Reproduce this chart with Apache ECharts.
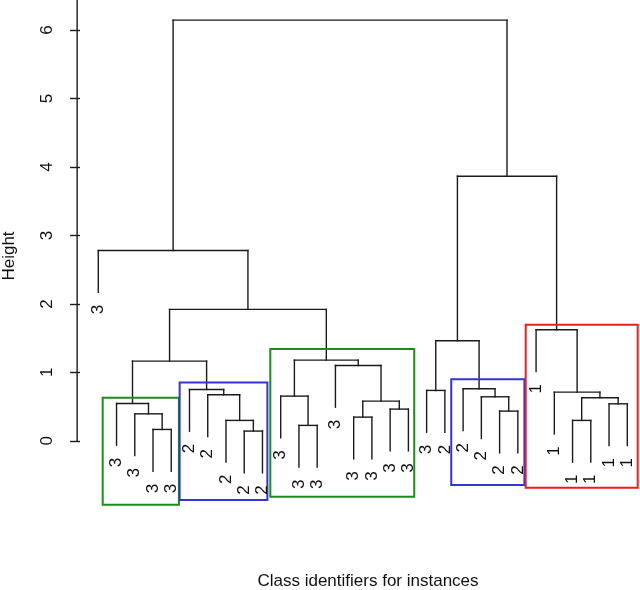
<!DOCTYPE html>
<html>
<head>
<meta charset="utf-8">
<script src="https://cdn.jsdelivr.net/npm/echarts@6/dist/echarts.min.js"></script>
<style>
html,body{margin:0;padding:0;background:#fff;}
#chart{width:640px;height:590px;}
</style>
</head>
<body>
<div id="chart"></div>
<script>
// ---- data ----
const leafLabels = ['3','3','3','3','3','2','2','2','2','2','3','3','3','3','3','3','3','3','3','2','2','2','2','2','1','1','1','1','1','1'];
// hclust-style merge table: negative = leaf (display order), positive = earlier merge row
const mergeLeft  = [-9,-4,-12,-27,-8,-15,-3,-23,-17,-29,-2,6,4,-22,-11,-7,-26,-19,-6,-21,-14,11,15,18,-25,22,-1,24,27];
const mergeRight = [-10,-5,-13,-28,1,-16,2,-24,-18,-30,7,9,10,8,3,5,13,-20,16,14,12,19,21,20,17,23,26,25,28];
const mergeHeight = [0.142,0.166,0.225,0.298,0.298,0.346,0.394,0.434,0.463,0.54,0.546,0.58,0.628,0.643,0.653,0.672,0.711,0.736,0.75,0.76,1.101,1.164,1.179,1.461,1.622,1.92,2.78,3.865,6.146];
const hang = 0.61;
const tickValues = [0,1,2,3,4,5,6];
// highlighted cluster boxes (leaf-index units, height units)
const boxLeft   = [1.24, 5.46, 10.43, 20.35, 24.43];
const boxRight  = [5.42, 10.27, 18.32, 24.36, 30.57];
const boxTop    = [0.628, 0.853, 1.34, 0.901, 1.695];
const boxBottom = [-0.935, -0.866, -0.818, -0.647, -0.687];
const boxColor  = ['#1f8a1f', '#3434d0', '#1f8a1f', '#3434d0', '#ee1c1c'];

// ---- build dendrogram segments ----
const nodeX = [], nodeH = [];
const segments = [];
const leafEnds = [];
function child(ref, parentH) {
  if (ref < 0) {
    const x = -ref, end = parentH - hang;
    segments.push([x, parentH, x, end]);
    leafEnds.push([x, end]);
    return x;
  } else {
    const i = ref - 1;
    segments.push([nodeX[i], parentH, nodeX[i], nodeH[i]]);
    return nodeX[i];
  }
}
for (let i = 0; i < mergeHeight.length; i++) {
  const h = mergeHeight[i];
  const xl = child(mergeLeft[i], h);
  const xr = child(mergeRight[i], h);
  segments.push([xl, h, xr, h]);
  nodeX[i] = (xl + xr) / 2;
  nodeH[i] = h;
}
leafEnds.sort((a, b) => a[0] - b[0]);
const labelData = leafEnds.map((p, i) => [p[0], p[1], i]);
const boxData = boxLeft.map((l, i) => [l, boxBottom[i], boxRight[i], boxTop[i]]);
const xMin = -0.16, xMax = 30.697, yMin = -2, yMax = 6.44;
const axisLineData = [[xMin, 0, xMin, yMax]];

const FONT = '"Liberation Sans", Arial, Helvetica, sans-serif';
const chart = echarts.init(document.getElementById('chart'));

function segItem(color, width) {
  return function (params, api) {
    const p1 = api.coord([api.value(0), api.value(1)]);
    const p2 = api.coord([api.value(2), api.value(3)]);
    return { type: 'line', shape: { x1: p1[0], y1: p1[1], x2: p2[0], y2: p2[1] },
      style: { stroke: color, lineWidth: width, lineCap: 'square' } };
  };
}

chart.setOption({
  animation: false,
  backgroundColor: '#fff',
  grid: { left: 77.14, top: 0, width: 562.86, height: 577.7, outerBoundsMode: 'none' },
  xAxis: { type: 'value', min: xMin, max: xMax, show: false },
  yAxis: {
    type: 'value', min: yMin, max: yMax,
    axisLine: { show: false },
    splitLine: { show: false },
    axisTick: { show: true, length: 10, customValues: tickValues, lineStyle: { color: '#1a1a1a', width: 1.4 } },
    axisLabel: { customValues: tickValues, rotate: 90, margin: 21, fontSize: 17, color: '#111', fontFamily: FONT }
  },
  graphic: [
    { type: 'text', x: 9.5, y: 256, rotation: Math.PI / 2,
      style: { text: 'Height', align: 'center', verticalAlign: 'middle', textAlign: 'center', textVerticalAlign: 'middle', font: '17px ' + FONT, fill: '#111' } },
    { type: 'text', x: 368, y: 581,
      style: { text: 'Class identifiers for instances', align: 'center', verticalAlign: 'middle', textAlign: 'center', textVerticalAlign: 'middle', font: '17px ' + FONT, fill: '#111' } }
  ],
  series: [
    { type: 'custom', clip: false, data: segments, encode: { x: [0, 2], y: [1, 3] }, renderItem: segItem('#1a1a1a', 1.4) },
    { type: 'custom', clip: false, data: axisLineData, encode: { x: [0, 2], y: [1, 3] }, renderItem: segItem('#1a1a1a', 1.4) },
    { type: 'custom', clip: false, data: boxData, encode: { x: [0, 2], y: [1, 3] },
      renderItem: function (params, api) {
        const p1 = api.coord([api.value(0), api.value(3)]);
        const p2 = api.coord([api.value(2), api.value(1)]);
        return { type: 'rect', shape: { x: p1[0], y: p1[1], width: p2[0] - p1[0], height: p2[1] - p1[1] },
          style: { fill: 'none', stroke: boxColor[params.dataIndex], lineWidth: 2 } };
      } },
    { type: 'custom', clip: false, data: labelData, encode: { x: 0, y: 1 },
      renderItem: function (params, api) {
        const p = api.coord([api.value(0), api.value(1)]);
        return { type: 'text', x: p[0], y: p[1] + 12.5, rotation: Math.PI / 2,
          style: { text: leafLabels[params.dataIndex], align: 'right', verticalAlign: 'middle',
            textAlign: 'right', textVerticalAlign: 'middle', font: '17px ' + FONT, fill: '#111' } };
      } }
  ]
});
</script>
</body>
</html>
